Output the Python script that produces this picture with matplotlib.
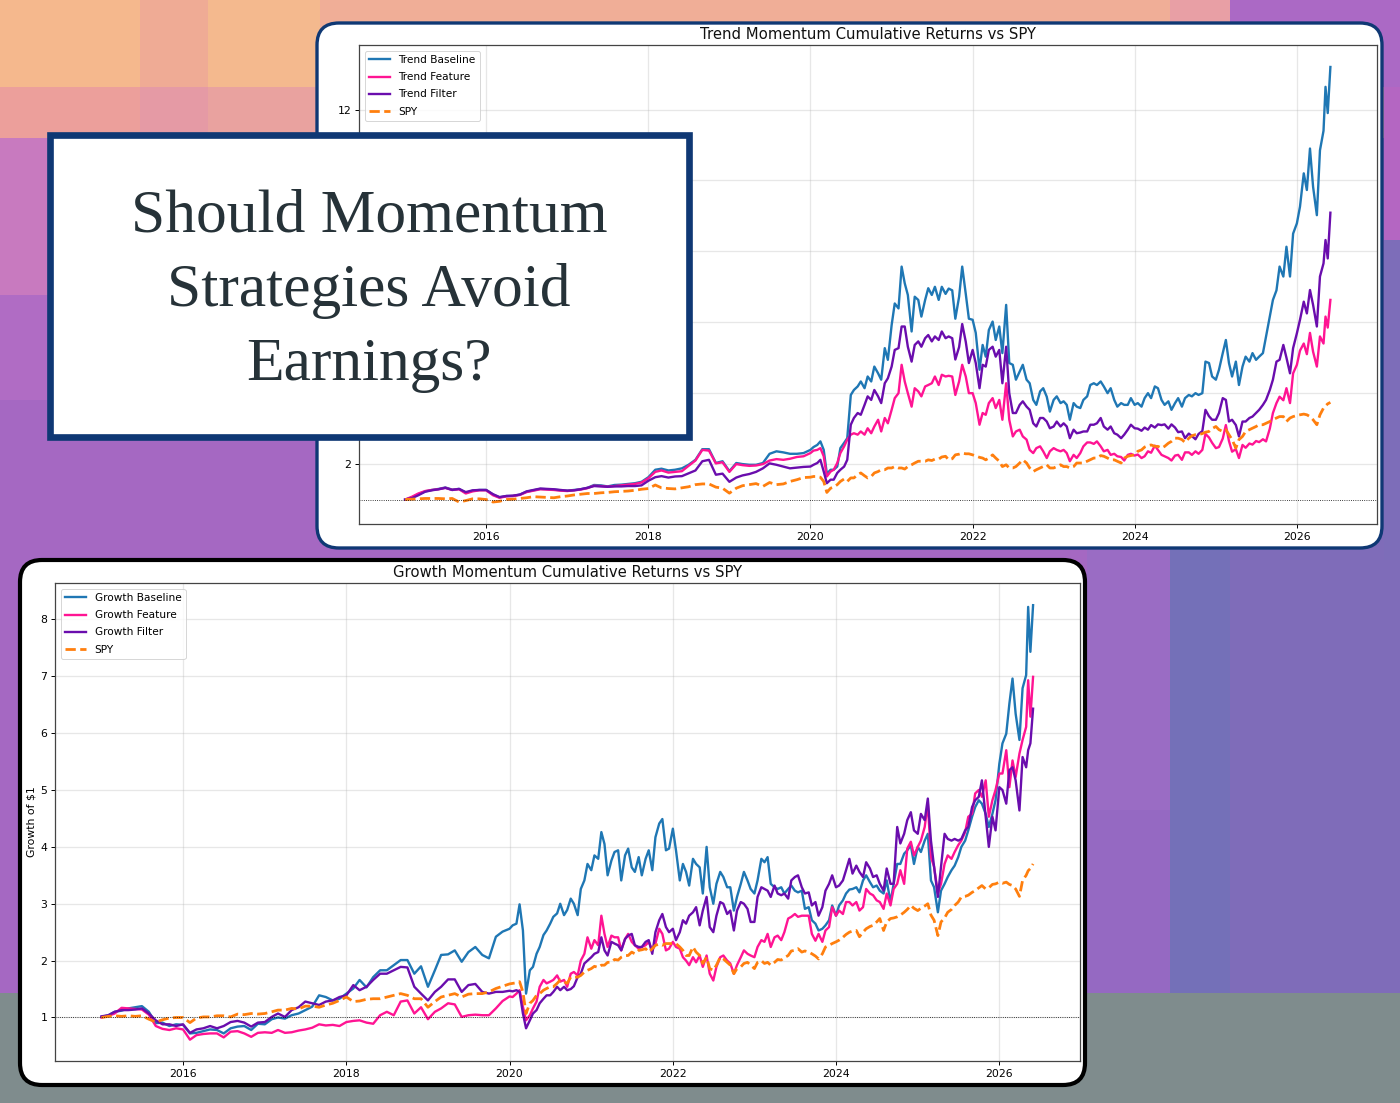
import pandas as pd
import matplotlib
matplotlib.use("Agg")
import matplotlib.pyplot as plt
import matplotlib.dates as mdates
from matplotlib.patches import FancyBboxPatch, Rectangle

W, H = 1400, 1103

# monthly to 2019, twice a month after that, a few extra points in the last run-up
dates = pd.date_range("2015-01-01", "2019-12-01", freq="MS").append(
    pd.date_range("2020-01-01", "2025-12-15", freq="SMS")).append(
    pd.to_datetime(["2026-01-01", "2026-01-15", "2026-02-01", "2026-02-15", "2026-03-01", "2026-03-15",
                    "2026-04-01", "2026-04-15", "2026-05-01", "2026-05-10", "2026-05-20", "2026-06-01"]))

trend_baseline = [
    1.00, 1.06, 1.15, 1.23, 1.27, 1.30, 1.34, 1.28, 1.30, 1.19, 1.25, 1.27,
    1.27, 1.14, 1.06, 1.10, 1.10, 1.14, 1.22, 1.26, 1.30, 1.29, 1.28, 1.26,
    1.25, 1.27, 1.29, 1.33, 1.41, 1.40, 1.37, 1.41, 1.42, 1.44, 1.46, 1.50,
    1.63, 1.84, 1.87, 1.82, 1.84, 1.88, 1.98, 2.12, 2.42, 2.42, 2.03, 2.08,
    1.80, 2.03, 2.00, 1.98, 1.98, 2.03, 2.29, 2.36, 2.33, 2.29, 2.29, 2.31,
    2.40, 2.48, 2.54, 2.64, 2.40, 1.73, 1.84, 1.84, 1.93, 2.45, 2.60, 2.73, 3.95, 4.09, 4.19, 4.33, 4.14, 4.47, 4.33, 4.75, 4.56, 4.38, 5.27, 4.94,
    5.92, 6.53, 6.39, 7.57, 7.10, 6.77, 5.74, 6.72, 6.63, 6.16, 6.63, 6.96, 6.77, 7.00, 6.63, 7.00, 6.80, 6.95, 6.90, 6.10, 6.72, 7.57, 6.80, 6.10,
    6.07, 5.70, 4.66, 5.36, 5.03, 5.78, 6.02, 5.50, 5.88, 5.13, 6.49, 4.85, 4.80, 4.38, 4.61, 4.80, 4.38, 4.28, 3.81, 3.67, 4.05, 4.14, 3.90, 3.48,
    3.81, 3.91, 3.72, 3.77, 3.67, 3.25, 3.72, 3.62, 3.58, 3.81, 3.91, 4.23, 4.28, 4.23, 4.33, 4.19, 4.00, 4.14, 3.81, 3.62, 3.72, 3.67, 3.67, 3.86,
    3.67, 3.72, 3.62, 3.86, 4.00, 3.86, 4.19, 4.14, 3.81, 3.67, 3.77, 3.53, 3.72, 3.86, 3.62, 3.86, 3.95, 3.91, 4.00, 3.95, 4.00, 4.89, 4.85, 4.47,
    4.38, 4.66, 5.13, 5.50, 4.85, 4.47, 4.89, 4.23, 4.75, 5.03, 4.89, 5.13, 4.94, 5.03, 5.13, 5.60, 6.16, 6.63, 6.90, 7.57, 7.29, 8.13, 7.29, 8.50,
    8.79, 9.26, 10.2, 9.73, 10.9, 9.82, 9.02, 10.85, 11.4, 12.64, 11.9, 13.2]
trend_feature = [
    1.00, 1.08, 1.17, 1.24, 1.27, 1.29, 1.33, 1.27, 1.29, 1.17, 1.23, 1.26,
    1.26, 1.12, 1.05, 1.09, 1.10, 1.13, 1.21, 1.25, 1.29, 1.28, 1.27, 1.25,
    1.24, 1.26, 1.28, 1.32, 1.39, 1.38, 1.36, 1.38, 1.40, 1.42, 1.44, 1.48,
    1.60, 1.78, 1.82, 1.76, 1.78, 1.80, 1.95, 2.10, 2.40, 2.38, 2.02, 2.05,
    1.78, 2.00, 1.97, 1.95, 1.96, 2.00, 2.10, 2.14, 2.12, 2.15, 2.20, 2.22,
    2.31, 2.38, 2.40, 2.45, 2.22, 1.65, 1.79, 1.84, 2.03, 2.31, 2.50, 2.69, 2.83, 2.87, 2.83, 2.92, 2.83, 3.01, 2.87, 3.06, 3.25, 2.92, 3.30, 3.15,
    3.53, 3.86, 4.00, 4.80, 4.33, 4.00, 3.62, 4.14, 4.05, 3.91, 4.19, 4.23, 4.28, 4.47, 4.23, 4.52, 4.47, 4.49, 4.47, 3.95, 4.33, 4.80, 4.47, 4.00,
    4.00, 3.72, 3.11, 3.44, 3.39, 3.72, 3.86, 3.58, 3.81, 3.25, 4.28, 3.25, 2.78, 2.92, 2.97, 2.78, 2.69, 2.40, 2.31, 2.45, 2.50, 2.36, 2.17, 2.36,
    2.45, 2.40, 2.36, 2.40, 2.31, 2.08, 2.26, 2.17, 2.31, 2.50, 2.61, 2.61, 2.57, 2.64, 2.50, 2.36, 2.40, 2.26, 2.29, 2.22, 2.20, 2.10, 2.26, 2.29,
    2.24, 2.27, 2.17, 2.22, 2.36, 2.32, 2.52, 2.40, 2.26, 2.22, 2.17, 2.10, 2.24, 2.26, 2.12, 2.33, 2.33, 2.26, 2.36, 2.29, 2.40, 2.85, 2.75, 2.60,
    2.45, 2.48, 2.72, 3.10, 2.65, 2.35, 2.42, 2.17, 2.54, 2.46, 2.58, 2.55, 2.65, 2.62, 2.70, 2.64, 3.00, 3.44, 3.72, 3.90, 3.80, 4.14, 3.72, 4.56,
    4.80, 5.20, 5.40, 5.10, 5.70, 5.17, 4.75, 5.60, 5.40, 6.16, 5.85, 6.63]
trend_filter = [
    1.00, 1.04, 1.12, 1.22, 1.26, 1.29, 1.33, 1.27, 1.30, 1.21, 1.26, 1.27,
    1.27, 1.15, 1.07, 1.10, 1.11, 1.14, 1.23, 1.27, 1.31, 1.30, 1.29, 1.27,
    1.25, 1.26, 1.29, 1.33, 1.38, 1.37, 1.36, 1.37, 1.37, 1.38, 1.38, 1.40,
    1.53, 1.63, 1.66, 1.62, 1.65, 1.66, 1.74, 1.82, 2.08, 2.12, 1.70, 1.73,
    1.50, 1.62, 1.68, 1.72, 1.78, 1.88, 2.02, 1.98, 1.93, 1.88, 1.90, 1.92,
    1.93, 1.98, 2.03, 2.12, 1.79, 1.46, 1.56, 1.56, 1.75, 1.84, 1.93, 2.12, 3.11, 3.30, 3.44, 3.39, 3.67, 3.91, 3.81, 4.09, 3.91, 3.72, 4.28, 4.42,
    4.75, 5.22, 5.27, 5.88, 5.88, 5.31, 4.89, 5.36, 5.46, 5.31, 5.55, 5.64, 5.46, 5.60, 5.50, 5.74, 5.55, 5.60, 5.55, 4.95, 5.30, 5.95, 5.45, 4.85,
    5.22, 4.85, 4.14, 4.80, 4.75, 5.22, 5.31, 5.03, 5.22, 4.28, 5.31, 4.00, 3.44, 3.44, 3.67, 3.77, 3.62, 3.53, 3.15, 3.06, 3.30, 3.30, 3.20, 3.01,
    3.06, 3.20, 3.06, 3.15, 3.06, 2.73, 2.97, 2.87, 2.89, 2.92, 2.92, 3.11, 3.11, 3.15, 3.30, 3.06, 2.97, 3.06, 2.87, 2.83, 2.73, 2.83, 2.97, 3.11,
    3.01, 3.00, 2.94, 3.03, 2.97, 3.10, 3.03, 3.12, 3.10, 3.12, 3.00, 3.12, 3.03, 2.90, 2.92, 2.73, 2.86, 2.79, 2.70, 2.85, 2.93, 3.53, 3.35, 3.25,
    3.25, 3.44, 3.86, 3.81, 3.20, 3.25, 3.10, 2.78, 3.20, 3.20, 3.30, 3.34, 3.44, 3.53, 3.67, 3.81, 4.09, 4.38, 4.89, 4.94, 5.36, 5.00, 4.56, 5.27,
    5.69, 6.07, 6.58, 6.25, 6.91, 6.49, 5.88, 7.29, 7.66, 8.32, 7.80, 9.09]
trend_spy = [
    1.00, 1.01, 1.02, 1.03, 1.03, 1.03, 1.02, 1.03, 0.93, 0.97, 1.02, 1.02,
    1.00, 0.93, 0.95, 1.00, 1.01, 1.03, 1.05, 1.08, 1.07, 1.06, 1.05, 1.08,
    1.10, 1.13, 1.15, 1.17, 1.17, 1.19, 1.20, 1.22, 1.23, 1.24, 1.26, 1.29,
    1.31, 1.41, 1.33, 1.31, 1.30, 1.33, 1.36, 1.42, 1.44, 1.44, 1.35, 1.32,
    1.18, 1.32, 1.39, 1.42, 1.45, 1.37, 1.48, 1.42, 1.44, 1.51, 1.56, 1.62,
    1.63, 1.65, 1.65, 1.63, 1.51, 1.20, 1.32, 1.35, 1.42, 1.51, 1.58, 1.51, 1.61, 1.61, 1.70, 1.75, 1.67, 1.61, 1.65, 1.75, 1.79, 1.84, 1.84, 1.89,
    1.89, 1.93, 1.89, 1.89, 1.86, 1.93, 1.98, 2.03, 2.08, 2.08, 2.08, 2.12, 2.10, 2.14, 2.14, 2.20, 2.22, 2.12, 2.15, 2.26, 2.28, 2.31, 2.29, 2.29,
    2.26, 2.23, 2.19, 2.17, 2.12, 2.17, 2.26, 2.17, 2.08, 1.93, 1.98, 1.89, 1.89, 1.93, 2.03, 2.12, 2.03, 1.89, 1.79, 1.84, 1.89, 1.93, 1.98, 1.89,
    1.89, 1.93, 1.98, 1.93, 1.93, 1.89, 1.93, 2.03, 2.03, 2.03, 2.08, 2.12, 2.17, 2.17, 2.24, 2.22, 2.17, 2.12, 2.12, 2.08, 2.03, 2.17, 2.22, 2.24,
    2.26, 2.36, 2.40, 2.48, 2.52, 2.54, 2.50, 2.50, 2.45, 2.50, 2.59, 2.64, 2.73, 2.73, 2.69, 2.61, 2.73, 2.80, 2.83, 2.83, 2.86, 2.90, 2.92, 3.00,
    3.06, 2.97, 2.92, 2.97, 2.83, 2.69, 2.45, 2.69, 2.78, 2.92, 2.97, 3.01, 3.06, 3.11, 3.11, 3.15, 3.20, 3.25, 3.30, 3.34, 3.34, 3.20, 3.30, 3.34,
    3.37, 3.39, 3.41, 3.39, 3.34, 3.25, 3.11, 3.39, 3.58, 3.64, 3.70, 3.74]

growth_baseline = [
    1.01, 1.04, 1.10, 1.12, 1.16, 1.18, 1.20, 1.10, 0.90, 0.91, 0.85, 0.88,
    0.87, 0.72, 0.73, 0.76, 0.79, 0.78, 0.72, 0.81, 0.84, 0.85, 0.78, 0.89,
    0.88, 0.97, 1.00, 0.98, 1.04, 1.07, 1.13, 1.19, 1.39, 1.36, 1.30, 1.33,
    1.42, 1.51, 1.66, 1.53, 1.71, 1.83, 1.83, 1.92, 2.01, 2.01, 1.77, 1.90,
    1.54, 1.83, 2.10, 2.11, 2.18, 1.98, 2.15, 2.24, 2.10, 2.04, 2.42, 2.51,
    2.56, 2.62, 2.65, 2.99, 2.53, 1.42, 1.83, 1.89, 2.12, 2.24, 2.45, 2.53, 2.65, 2.77, 2.83, 3.00, 2.80, 2.89, 3.09, 3.00, 2.80, 3.26, 3.41, 3.70,
    3.59, 3.85, 3.79, 4.26, 4.05, 3.50, 3.76, 3.91, 3.94, 3.41, 3.85, 3.97, 3.64, 3.56, 3.82, 3.50, 3.79, 3.94, 3.59, 4.17, 4.41, 4.49, 3.94, 3.97,
    4.32, 3.94, 3.41, 3.70, 3.56, 3.32, 3.79, 3.70, 3.64, 3.18, 4.00, 3.29, 3.00, 3.35, 3.56, 3.47, 3.29, 3.29, 2.88, 3.12, 3.35, 3.56, 3.41, 3.26,
    3.18, 3.41, 3.79, 3.73, 3.82, 3.35, 3.29, 3.26, 3.29, 3.18, 3.26, 3.32, 3.23, 3.20, 3.23, 2.91, 2.94, 2.71, 2.65, 2.53, 2.56, 2.62, 2.71, 2.97,
    2.79, 2.97, 3.06, 3.18, 3.25, 3.26, 3.29, 3.20, 3.41, 3.50, 3.38, 3.29, 3.32, 3.23, 3.18, 3.41, 3.03, 3.35, 3.70, 3.70, 3.88, 3.94, 4.03, 3.70,
    4.00, 3.91, 4.11, 4.23, 3.41, 3.29, 2.85, 3.23, 3.35, 3.47, 3.59, 3.67, 3.82, 4.00, 4.11, 4.29, 4.53, 4.70, 4.82, 4.76, 4.58, 4.35, 4.58, 4.82,
    5.46, 5.82, 5.99, 6.52, 6.96, 6.34, 5.88, 6.79, 7.02, 8.22, 7.43, 8.25]
growth_feature = [
    1.00, 1.03, 1.07, 1.17, 1.16, 1.15, 1.14, 1.05, 0.85, 0.80, 0.78, 0.81,
    0.79, 0.61, 0.69, 0.71, 0.72, 0.72, 0.65, 0.75, 0.76, 0.72, 0.66, 0.73,
    0.74, 0.73, 0.78, 0.73, 0.74, 0.77, 0.79, 0.82, 0.88, 0.86, 0.87, 0.85,
    0.92, 0.94, 0.95, 0.91, 0.89, 1.04, 1.10, 1.04, 1.28, 1.30, 1.07, 1.18,
    0.97, 1.10, 1.16, 1.25, 1.23, 1.01, 1.04, 1.05, 1.04, 1.04, 1.16, 1.29,
    1.37, 1.36, 1.42, 1.48, 1.19, 0.95, 1.04, 1.16, 1.28, 1.54, 1.66, 1.60, 1.63, 1.66, 1.74, 1.63, 1.66, 1.54, 1.77, 1.80, 1.74, 2.00, 2.12, 2.41,
    2.21, 2.36, 2.27, 2.79, 2.47, 2.24, 2.44, 2.41, 2.41, 2.18, 2.38, 2.47, 2.33, 2.27, 2.21, 2.24, 2.27, 2.33, 2.18, 2.30, 2.56, 2.47, 2.18, 2.21,
    2.33, 2.24, 2.21, 2.06, 2.00, 1.92, 2.06, 1.97, 2.09, 1.89, 2.09, 1.77, 1.65, 1.89, 2.06, 2.09, 2.00, 1.95, 1.77, 1.92, 2.06, 2.18, 2.12, 2.09,
    2.06, 2.24, 2.36, 2.33, 2.47, 2.24, 2.41, 2.44, 2.36, 2.50, 2.74, 2.77, 2.82, 2.77, 2.79, 2.79, 2.79, 2.47, 2.35, 2.47, 2.33, 2.53, 2.59, 2.94,
    2.79, 2.88, 2.82, 3.03, 3.03, 2.97, 3.03, 2.88, 2.94, 3.26, 3.18, 3.15, 3.06, 3.03, 2.91, 3.18, 2.97, 3.26, 3.35, 3.59, 3.35, 3.97, 4.09, 3.85,
    4.00, 4.11, 4.35, 4.76, 3.82, 3.65, 3.18, 3.35, 3.70, 3.85, 3.79, 3.91, 4.03, 4.11, 4.26, 4.53, 4.58, 4.94, 5.00, 4.88, 5.17, 4.53, 4.82, 5.00,
    5.29, 5.29, 5.70, 5.05, 5.52, 5.23, 5.64, 5.88, 6.11, 6.93, 6.29, 6.99]
growth_filter = [
    1.02, 1.04, 1.10, 1.13, 1.13, 1.14, 1.16, 1.07, 0.95, 0.88, 0.88, 0.85,
    0.88, 0.73, 0.79, 0.81, 0.85, 0.81, 0.85, 0.92, 0.94, 0.91, 0.84, 0.91,
    0.92, 1.01, 1.07, 1.01, 1.13, 1.18, 1.28, 1.25, 1.22, 1.28, 1.30, 1.36,
    1.39, 1.57, 1.48, 1.54, 1.66, 1.77, 1.77, 1.83, 1.89, 1.88, 1.54, 1.42,
    1.30, 1.45, 1.54, 1.67, 1.67, 1.45, 1.57, 1.59, 1.45, 1.42, 1.45, 1.45,
    1.47, 1.46, 1.48, 1.45, 1.07, 0.81, 0.95, 1.07, 1.13, 1.25, 1.33, 1.39, 1.39, 1.45, 1.54, 1.48, 1.54, 1.48, 1.50, 1.55, 1.71, 1.77, 1.95, 2.00,
    2.06, 2.12, 2.15, 2.41, 2.18, 2.09, 2.33, 2.30, 2.27, 2.18, 2.38, 2.44, 2.47, 2.27, 2.24, 2.24, 2.33, 2.36, 2.12, 2.50, 2.71, 2.82, 2.59, 2.50,
    2.56, 2.36, 2.50, 2.71, 2.65, 2.79, 2.85, 2.94, 2.62, 2.88, 3.12, 2.59, 2.50, 2.79, 3.03, 3.00, 2.82, 2.88, 2.53, 2.88, 3.03, 3.00, 2.91, 2.68,
    2.68, 3.12, 3.29, 3.26, 3.23, 3.12, 3.32, 3.18, 3.15, 3.18, 3.09, 3.41, 3.47, 3.50, 3.29, 3.18, 3.20, 2.97, 3.03, 2.79, 2.94, 3.23, 3.35, 3.50,
    3.29, 3.32, 3.41, 3.59, 3.79, 3.53, 3.67, 3.56, 3.47, 3.73, 3.62, 3.47, 3.50, 3.35, 3.23, 3.62, 3.35, 3.35, 4.35, 4.06, 4.23, 4.47, 4.61, 4.29,
    4.23, 4.58, 4.47, 4.85, 4.11, 3.65, 3.12, 3.65, 4.23, 4.14, 4.11, 4.14, 4.11, 4.14, 4.29, 4.35, 4.70, 4.82, 4.88, 5.17, 4.53, 4.00, 4.53, 4.29,
    5.05, 5.00, 4.76, 5.35, 5.40, 5.17, 4.64, 5.58, 5.40, 5.70, 5.82, 6.43]
growth_spy = [
    1.00, 1.02, 1.03, 1.02, 1.03, 1.02, 1.03, 0.97, 0.92, 0.96, 0.99, 1.00,
    1.00, 0.91, 0.99, 1.01, 1.01, 1.03, 1.03, 1.01, 1.06, 1.05, 1.07, 1.06,
    1.07, 1.10, 1.13, 1.13, 1.16, 1.15, 1.20, 1.20, 1.18, 1.22, 1.25, 1.30,
    1.36, 1.28, 1.29, 1.32, 1.33, 1.33, 1.36, 1.39, 1.42, 1.39, 1.33, 1.33,
    1.18, 1.28, 1.36, 1.39, 1.42, 1.36, 1.41, 1.42, 1.42, 1.45, 1.51, 1.55,
    1.59, 1.60, 1.61, 1.63, 1.45, 1.07, 1.25, 1.30, 1.39, 1.42, 1.48, 1.51, 1.54, 1.54, 1.60, 1.66, 1.63, 1.60, 1.71, 1.71, 1.71, 1.74, 1.80, 1.83,
    1.86, 1.90, 1.88, 1.92, 1.92, 1.97, 1.97, 2.02, 2.01, 2.06, 2.09, 2.09, 2.15, 2.12, 2.18, 2.19, 2.21, 2.15, 2.21, 2.27, 2.29, 2.27, 2.30, 2.30,
    2.30, 2.30, 2.24, 2.18, 2.09, 2.09, 2.24, 2.15, 2.09, 1.95, 2.06, 1.86, 1.83, 1.92, 2.06, 2.03, 1.97, 1.92, 1.77, 1.86, 1.89, 1.95, 1.97, 1.92,
    1.86, 1.97, 2.00, 1.95, 1.97, 1.92, 1.97, 2.02, 2.01, 2.05, 2.09, 2.17, 2.18, 2.21, 2.15, 2.17, 2.15, 2.12, 2.08, 2.03, 2.12, 2.24, 2.27, 2.30,
    2.33, 2.36, 2.41, 2.46, 2.50, 2.52, 2.53, 2.42, 2.50, 2.56, 2.60, 2.62, 2.68, 2.74, 2.53, 2.68, 2.74, 2.75, 2.77, 2.80, 2.85, 2.90, 2.97, 2.92,
    2.88, 2.92, 2.96, 3.00, 2.80, 2.71, 2.44, 2.68, 2.75, 2.85, 2.90, 2.97, 3.03, 3.12, 3.13, 3.15, 3.20, 3.23, 3.28, 3.32, 3.26, 3.28, 3.34, 3.35,
    3.38, 3.36, 3.38, 3.34, 3.32, 3.26, 3.13, 3.41, 3.50, 3.58, 3.62, 3.70]

heading_lines = ["Should Momentum", "Strategies Avoid", "Earnings?"]
heading_y = [231, 306, 380]

# colour patches behind the cards: left, top, right, bottom in pixels, then colour
bg_patches = [
    (0, 0, 1400, 1103, "#a568c2"), (0, 0, 140, 87, "#f5b88d"), (140, 0, 208, 87, "#efab95"),
    (208, 0, 320, 87, "#f4b98e"), (320, 0, 1170, 87, "#f0ae97"), (1170, 0, 1230, 87, "#e89fa5"),
    (1230, 0, 1400, 87, "#ab69c5"), (0, 87, 140, 138, "#ec9f9b"), (140, 87, 208, 138, "#e59aa5"),
    (208, 87, 1400, 138, "#e9a29f"), (0, 138, 320, 295, "#c87abf"), (0, 295, 320, 400, "#b06cc4"),
    (1384, 87, 1400, 240, "#b466c2"), (1384, 240, 1400, 560, "#7d6db9"), (1087, 500, 1170, 993, "#9a6cc4"),
    (1170, 500, 1230, 993, "#7470b8"), (1230, 500, 1384, 993, "#7f6cb9"), (1384, 560, 1400, 993, "#7f6cb9"),
    (1087, 810, 1170, 993, "#9569c2"), (0, 993, 1400, 1103, "#7f8c8d"),
]

COLORS = {"baseline": "#1f77b4", "feature": "#ff1493", "filter": "#6a0dad", "spy": "#ff7f0e"}

fig = plt.figure(figsize=(W / 100, H / 100), dpi=100)


def px_axes(left, top, right, bottom, zorder):
    return fig.add_axes([left / W, 1 - bottom / H, (right - left) / W, (bottom - top) / H], zorder=zorder)


# full-figure layers in pixel coordinates for the background, cards and heading box
back = px_axes(0, 0, W, H, 0)
back.set_xlim(0, W)
back.set_ylim(H, 0)
back.axis("off")
for l, t, r, b, c in bg_patches:
    back.add_patch(Rectangle((l, t), r - l, b - t, fc=c, ec="none"))


def card(left, top, right, bottom, edge, lw):
    back.add_patch(FancyBboxPatch((left + 22, top + 22), right - left - 44, bottom - top - 44,
                                  boxstyle="round,pad=22,rounding_size=22", fc="white", ec=edge, lw=lw))


card(317, 23, 1382, 548, "#0f3874", 2.4)
card(20, 560, 1085, 1085, "black", 3.0)


def draw_chart(ax, prefix, base, feat, filt, spy, title, ylim, yticks, yticklabels, ylabel=None):
    ax.plot(dates, base, color=COLORS["baseline"], lw=1.7, label=prefix + " Baseline")
    ax.plot(dates, feat, color=COLORS["feature"], lw=1.7, label=prefix + " Feature")
    ax.plot(dates, filt, color=COLORS["filter"], lw=1.7, label=prefix + " Filter")
    ax.plot(dates, spy, color=COLORS["spy"], lw=2.0, ls="--", label="SPY")
    ax.axhline(1, color="black", lw=0.6, ls=":")
    ax.set_xlim(pd.Timestamp("2014-06-07"), pd.Timestamp("2026-12-28"))
    ax.set_ylim(*ylim)
    ax.set_yticks(yticks, yticklabels)
    ax.xaxis.set_major_locator(mdates.YearLocator(2))
    ax.xaxis.set_major_formatter(mdates.DateFormatter("%Y"))
    ax.tick_params(labelsize=7.8, length=2.6, width=0.7, pad=3)
    ax.grid(True, color="#b0b0b0", alpha=0.3, lw=0.9)
    ax.set_title(title, fontsize=10.7, pad=4, color="#111111")
    if ylabel:
        ax.set_ylabel(ylabel, fontsize=7.8, labelpad=3)
    for s in ax.spines.values():
        s.set_color("#444444")
        s.set_linewidth(0.9)
    leg = ax.legend(loc="upper left", fontsize=7.6, framealpha=0.8, borderaxespad=0.55, labelspacing=0.68)
    leg.get_frame().set_linewidth(0.7)


# the labels from 4 to 10 would sit under the heading box
top_ax = px_axes(359, 45, 1377, 524, 1)
draw_chart(top_ax, "Trend", trend_baseline, trend_feature, trend_filter, trend_spy,
           "Trend Momentum Cumulative Returns vs SPY", (0.31, 13.82),
           [2, 4, 6, 8, 10, 12], ["2", "", "", "", "", "12"])

bottom_ax = px_axes(55, 583, 1080, 1061, 1)
draw_chart(bottom_ax, "Growth", growth_baseline, growth_feature, growth_filter, growth_spy,
           "Growth Momentum Cumulative Returns vs SPY", (0.235, 8.64),
           list(range(1, 9)), [str(v) for v in range(1, 9)], "Growth of \\$1")

# heading box sits on top of the upper chart
front = px_axes(0, 0, W, H, 5)
front.set_xlim(0, W)
front.set_ylim(H, 0)
front.axis("off")
front.patch.set_alpha(0)
front.add_patch(Rectangle((50, 134.5), 638.5, 302.5, fc="white", ec="#0f3874", lw=4.8))
for line, y in zip(heading_lines, heading_y):
    front.text(369, y, line, family="Liberation Serif", fontsize=44.3, color="#263238", ha="center", va="baseline")

fig.savefig("out.png", dpi=100)
